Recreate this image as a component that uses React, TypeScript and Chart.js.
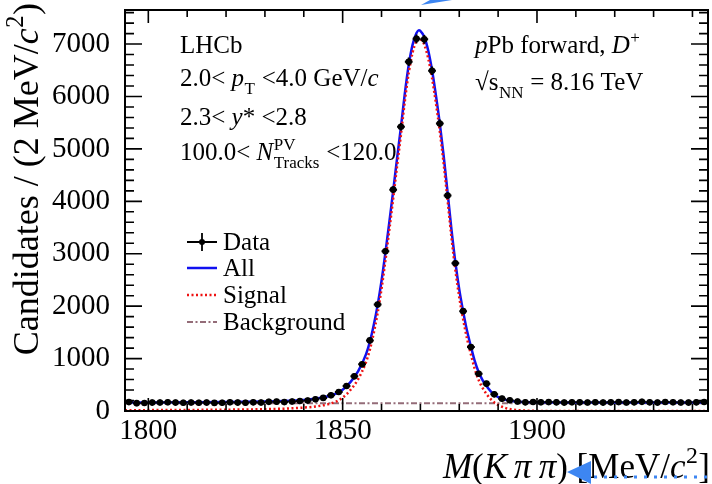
import React, { useEffect, useRef } from "react";
import { Chart, registerables } from "chart.js";

Chart.register(...registerables);

// ---------- axis ranges & ticks ----------
const X_MIN = 1794;
const X_MAX = 1944;
const Y_MIN = 0;
const Y_MAX = 7650;
const X_TICKS = [1800, 1850, 1900];
const Y_TICKS = [0, 1000, 2000, 3000, 4000, 5000, 6000, 7000];
const X_MINOR_STEP = 10;
const Y_MINOR_STEP = 200;

// ---------- data (2 MeV bins) ----------
const BIN_CENTERS = [
  1795, 1797, 1799, 1801, 1803, 1805, 1807, 1809, 1811, 1813,
  1815, 1817, 1819, 1821, 1823, 1825, 1827, 1829, 1831, 1833,
  1835, 1837, 1839, 1841, 1843, 1845, 1847, 1849, 1851, 1853,
  1855, 1857, 1859, 1861, 1863, 1865, 1867, 1869, 1871, 1873,
  1875, 1877, 1879, 1881, 1883, 1885, 1887, 1889, 1891, 1893,
  1895, 1897, 1899, 1901, 1903, 1905, 1907, 1909, 1911, 1913,
  1915, 1917, 1919, 1921, 1923, 1925, 1927, 1929, 1931, 1933,
  1935, 1937, 1939, 1941, 1943,
];
const DATA_COUNTS = [
  170, 150, 152, 160, 162, 168, 160, 158, 162, 158,
  160, 155, 158, 168, 160, 158, 165, 162, 175, 178,
  170, 182, 190, 200, 225, 250, 300, 362, 476, 661,
  890, 1347, 2032, 3048, 4223, 5423, 6661, 7100, 7090, 6490,
  5486, 4109, 2819, 1905, 1219, 712, 522, 318, 236, 205,
  180, 165, 172, 168, 170, 165, 160, 168, 165, 162,
  168, 160, 165, 170, 162, 165, 175, 165, 160, 172,
  168, 162, 160, 165, 172,
];
const BIN_HALF_WIDTH = 1;

// ---------- fit curves ----------
const ALL_X = [
  1794, 1800, 1810, 1820, 1830, 1835, 1840, 1843, 1846, 1848,
  1850, 1852, 1854, 1856, 1857, 1858, 1859, 1860, 1861, 1862,
  1863, 1864, 1865, 1866, 1867, 1868, 1869, 1869.6, 1870, 1871,
  1872, 1873, 1874, 1875, 1876, 1877, 1878, 1879, 1880, 1881,
  1882, 1883, 1884, 1885, 1886, 1887, 1888, 1889, 1890, 1892,
  1894, 1897, 1900, 1910, 1920, 1930, 1944,
];
const ALL_Y = [
  162, 163, 166, 170, 182, 192, 212, 235, 275, 320,
  405, 550, 760, 1080, 1320, 1640, 2020, 2480, 3020, 3600,
  4200, 4820, 5420, 6060, 6600, 6990, 7210, 7265, 7250, 7140,
  6880, 6500, 6020, 5480, 4860, 4170, 3460, 2840, 2320, 1900,
  1530, 1230, 950, 740, 590, 475, 385, 315, 265, 212,
  186, 170, 165, 163, 162, 161, 160,
];
const SIG_X = [
  1794, 1810, 1820, 1830, 1835, 1840, 1843, 1846, 1848, 1850,
  1852, 1854, 1856, 1857, 1858, 1859, 1860, 1861, 1862, 1863,
  1864, 1865, 1866, 1867, 1868, 1869, 1869.6, 1870, 1871, 1872,
  1873, 1874, 1875, 1876, 1877, 1878, 1879, 1880, 1881, 1882,
  1883, 1884, 1885, 1886, 1887, 1888, 1889, 1890, 1892, 1894,
  1897, 1900, 1944,
];
const SIG_Y = [
  15, 20, 25, 35, 45, 65, 85, 125, 170, 255,
  400, 610, 930, 1170, 1490, 1870, 2330, 2870, 3450, 4050,
  4670, 5270, 5910, 6450, 6840, 7060, 7115, 7100, 6990, 6730,
  6350, 5870, 5330, 4710, 4020, 3310, 2690, 2170, 1750, 1380,
  1080, 800, 590, 440, 325, 235, 165, 115, 55, 25,
  8, 2, 0,
];
const BKG_X = [1794, 1944];
const BKG_Y = [148, 150];

// ---------- styles ----------
const SERIF = '"Liberation Serif", "Times New Roman", serif';
const BLUE = "#1010f0";
const RED = "#ee1111";
const BKG_COLOR = "#946c78";

type Seg = { t?: string; it?: boolean; sub?: string; sup?: string };

function fnt(size: number, italic?: boolean) {
  return `${italic ? "italic " : ""}${size}px ${SERIF}`;
}

function segWidth(ctx: CanvasRenderingContext2D, s: Seg, size: number) {
  const small = size * 0.68;
  let w = 0;
  if (s.t) {
    ctx.font = fnt(size, s.it);
    w += ctx.measureText(s.t).width;
  }
  if (s.sub || s.sup) {
    ctx.font = fnt(small, false);
    const a = s.sub ? ctx.measureText(s.sub).width : 0;
    const b = s.sup ? ctx.measureText(s.sup).width : 0;
    w += Math.max(a, b) + 1;
  }
  return w;
}

function drawRich(
  ctx: CanvasRenderingContext2D,
  segs: Seg[],
  x: number,
  y: number,
  size: number,
  align: "left" | "right" = "left"
) {
  ctx.save();
  ctx.textAlign = "left";
  ctx.textBaseline = "alphabetic";
  ctx.fillStyle = "#000";
  let total = 0;
  for (const s of segs) total += segWidth(ctx, s, size);
  let cx = align === "right" ? x - total : x;
  const small = size * 0.68;
  for (const s of segs) {
    if (s.t) {
      ctx.font = fnt(size, s.it);
      ctx.fillText(s.t, cx, y);
      cx += ctx.measureText(s.t).width;
    }
    if (s.sub || s.sup) {
      ctx.font = fnt(small, false);
      let w = 0;
      if (s.sup) {
        ctx.fillText(s.sup, cx + 0.5, y - size * 0.42);
        w = Math.max(w, ctx.measureText(s.sup).width);
      }
      if (s.sub) {
        ctx.fillText(s.sub, cx + 0.5, y + size * 0.3);
        w = Math.max(w, ctx.measureText(s.sub).width);
      }
      cx += w + 1;
    }
  }
  ctx.restore();
}

const rootPlugin = {
  id: "rootStyle",
  beforeDatasetDraw(chart: any, args: any) {
    if (args.index !== 0) return;
    const ctx: CanvasRenderingContext2D = chart.ctx;
    const xs = chart.scales.x;
    const ys = chart.scales.y;
    const a = chart.chartArea;
    ctx.save();
    ctx.beginPath();
    ctx.rect(a.left, a.top, a.right - a.left, a.bottom - a.top);
    ctx.clip();
    ctx.strokeStyle = "#000";
    ctx.lineWidth = 2;
    BIN_CENTERS.forEach((c, i) => {
      const n = DATA_COUNTS[i];
      const err = Math.sqrt(n);
      const px = xs.getPixelForValue(c);
      const py = ys.getPixelForValue(n);
      const x0 = xs.getPixelForValue(c - BIN_HALF_WIDTH);
      const x1 = xs.getPixelForValue(c + BIN_HALF_WIDTH);
      const y0 = ys.getPixelForValue(n - err);
      const y1 = ys.getPixelForValue(n + err);
      ctx.beginPath();
      ctx.moveTo(x0, py);
      ctx.lineTo(x1, py);
      ctx.moveTo(px, Math.max(y0, py + 3));
      ctx.lineTo(px, Math.min(y1, py - 3));
      ctx.stroke();
    });
    ctx.restore();
  },
  afterDraw(chart: any) {
    const ctx: CanvasRenderingContext2D = chart.ctx;
    const xs = chart.scales.x;
    const ys = chart.scales.y;
    const a = chart.chartArea;
    ctx.save();
    // frame
    ctx.strokeStyle = "#000";
    ctx.lineWidth = 2;
    ctx.strokeRect(a.left, a.top, a.right - a.left, a.bottom - a.top);
    // x ticks (bottom & top, inward)
    ctx.lineWidth = 1.6;
    ctx.beginPath();
    for (let v = Math.ceil(X_MIN / X_MINOR_STEP) * X_MINOR_STEP; v <= X_MAX; v += X_MINOR_STEP) {
      const px = xs.getPixelForValue(v);
      const major = X_TICKS.includes(v);
      const len = major ? 13 : 7;
      ctx.moveTo(px, a.bottom);
      ctx.lineTo(px, a.bottom - len);
      ctx.moveTo(px, a.top);
      ctx.lineTo(px, a.top + len);
    }
    // y ticks (left & right, inward)
    for (let v = Y_MIN; v <= Y_MAX; v += Y_MINOR_STEP) {
      const py = ys.getPixelForValue(v);
      const major = Y_TICKS.includes(v);
      const len = major ? 17 : 9;
      ctx.moveTo(a.left, py);
      ctx.lineTo(a.left + len, py);
      ctx.moveTo(a.right, py);
      ctx.lineTo(a.right - len, py);
    }
    ctx.stroke();

    // axis titles
    drawRich(
      ctx,
      [
        { t: "M", it: true },
        { t: "(" },
        { t: "K\u2009\u03c0\u2009\u03c0", it: true },
        { t: ") [MeV/" },
        { t: "c", it: true, sup: "2" },
        { t: "]" },
      ],
      710,
      478,
      35,
      "right"
    );
    ctx.save();
    ctx.translate(38, 3);
    ctx.rotate(-Math.PI / 2);
    drawRich(
      ctx,
      [
        { t: "Candidates / (2 MeV/" },
        { t: "c", it: true, sup: "2" },
        { t: ")" },
      ],
      0,
      0,
      36,
      "right"
    );
    ctx.restore();

    // annotations
    const fs = 25;
    drawRich(ctx, [{ t: "LHCb" }], 180, 53, fs);
    drawRich(
      ctx,
      [{ t: "2.0< " }, { t: "p", it: true, sub: "T" }, { t: " <4.0 GeV/" }, { t: "c", it: true }],
      180,
      86,
      fs
    );
    drawRich(ctx, [{ t: "2.3< " }, { t: "y", it: true }, { t: "* <2.8" }], 180, 125, fs);
    drawRich(
      ctx,
      [{ t: "100.0< " }, { t: "N", it: true, sup: "PV", sub: "Tracks" }, { t: " <120.0" }],
      180,
      160,
      fs
    );
    drawRich(
      ctx,
      [{ t: "p", it: true }, { t: "Pb forward, " }, { t: "D", it: true, sup: "+" }],
      475,
      53,
      fs
    );
    drawRich(ctx, [{ t: "\u221as", sub: "NN" }, { t: " = 8.16 TeV" }], 475, 90, fs);

    // legend
    const lx0 = 187;
    const lx1 = 217;
    const rows = [242, 268, 295, 322];
    ctx.lineWidth = 1.8;
    ctx.strokeStyle = "#000";
    ctx.beginPath();
    ctx.moveTo(lx0, rows[0]);
    ctx.lineTo(lx1, rows[0]);
    ctx.moveTo(202, rows[0] - 9);
    ctx.lineTo(202, rows[0] + 9);
    ctx.stroke();
    ctx.fillStyle = "#000";
    ctx.beginPath();
    ctx.arc(202, rows[0], 3, 0, Math.PI * 2);
    ctx.fill();
    ctx.strokeStyle = BLUE;
    ctx.lineWidth = 2.5;
    ctx.beginPath();
    ctx.moveTo(lx0, rows[1]);
    ctx.lineTo(lx1, rows[1]);
    ctx.stroke();
    ctx.strokeStyle = RED;
    ctx.setLineDash([2, 2.5]);
    ctx.beginPath();
    ctx.moveTo(lx0, rows[2]);
    ctx.lineTo(lx1, rows[2]);
    ctx.stroke();
    ctx.strokeStyle = BKG_COLOR;
    ctx.lineWidth = 2;
    ctx.setLineDash([6, 2.5, 2, 2.5]);
    ctx.beginPath();
    ctx.moveTo(lx0, rows[3]);
    ctx.lineTo(lx1, rows[3]);
    ctx.stroke();
    ctx.setLineDash([]);
    const labels = ["Data", "All", "Signal", "Background"];
    labels.forEach((l, i) => drawRich(ctx, [{ t: l }], 223, rows[i] + 8, fs));

    // blue pointer marks present on the picture
    ctx.fillStyle = "#3d86f2";
    ctx.beginPath();
    ctx.moveTo(421, 5);
    ctx.lineTo(452, 0);
    ctx.lineTo(430, 0);
    ctx.closePath();
    ctx.fill();
    ctx.beginPath();
    ctx.moveTo(567, 472);
    ctx.lineTo(591, 461);
    ctx.lineTo(591, 484);
    ctx.closePath();
    ctx.fill();
    ctx.strokeStyle = "#3d86f2";
    ctx.lineWidth = 3;
    ctx.setLineDash([3, 7]);
    ctx.beginPath();
    ctx.moveTo(594, 477);
    ctx.lineTo(708, 477);
    ctx.stroke();
    ctx.setLineDash([]);
    ctx.restore();
  },
};

export default function App() {
  const ref = useRef<HTMLCanvasElement | null>(null);
  useEffect(() => {
    if (!ref.current) return;
    const tickFont = { family: SERIF, size: 29 };
    const chart = new Chart(ref.current, {
      type: "line",
      data: {
        datasets: [
          {
            label: "Data",
            data: BIN_CENTERS.map((c, i) => ({ x: c, y: DATA_COUNTS[i] })),
            showLine: false,
            pointRadius: 3.3,
            pointBackgroundColor: "#000",
            pointBorderColor: "#000",
            pointBorderWidth: 0,
          },
          {
            label: "Signal",
            data: SIG_X.map((x, i) => ({ x, y: SIG_Y[i] })),
            borderColor: RED,
            borderWidth: 2.5,
            borderDash: [2, 2.5],
            pointRadius: 0,
            cubicInterpolationMode: "monotone",
            fill: false,
          },
          {
            label: "All",
            data: ALL_X.map((x, i) => ({ x, y: ALL_Y[i] })),
            borderColor: BLUE,
            borderWidth: 2.5,
            pointRadius: 0,
            cubicInterpolationMode: "monotone",
            fill: false,
          },
          {
            label: "Background",
            data: BKG_X.map((x, i) => ({ x, y: BKG_Y[i] })),
            borderColor: BKG_COLOR,
            borderWidth: 2,
            borderDash: [6, 2.5, 2, 2.5],
            pointRadius: 0,
            fill: false,
          },
        ],
      },
      options: {
        animation: false,
        responsive: false,
        devicePixelRatio: 1,
        layout: { padding: { top: 10, right: 2, left: 0, bottom: 0 } },
        plugins: { legend: { display: false }, tooltip: { enabled: false } },
        events: [],
        scales: {
          x: {
            type: "linear",
            min: X_MIN,
            max: X_MAX,
            grid: { display: false, drawTicks: false },
            border: { display: false },
            ticks: {
              font: tickFont,
              color: "#000",
              padding: 3,
              maxRotation: 0,
              autoSkip: false,
              callback: (v: any) => String(v),
            },
            afterBuildTicks: (s: any) => {
              s.ticks = X_TICKS.map((v) => ({ value: v }));
            },
            afterFit: (s: any) => {
              s.height = 73;
              s.paddingLeft = 0;
              s.paddingRight = 0;
            },
          },
          y: {
            type: "linear",
            min: Y_MIN,
            max: Y_MAX,
            grid: { display: false, drawTicks: false },
            border: { display: false },
            ticks: {
              font: tickFont,
              color: "#000",
              padding: 15,
              autoSkip: false,
              callback: (v: any) => String(v),
            },
            afterBuildTicks: (s: any) => {
              s.ticks = Y_TICKS.map((v) => ({ value: v }));
            },
            afterFit: (s: any) => {
              s.width = 125;
              s.paddingTop = 0;
              s.paddingBottom = 0;
            },
          },
        },
      } as any,
      plugins: [rootPlugin],
    });
    return () => chart.destroy();
  }, []);
  return (
    <div style={{ position: "fixed", left: 0, top: 0, width: 712, height: 484, background: "#fff" }}>
      <canvas ref={ref} width={712} height={484} style={{ width: 712, height: 484, display: "block" }} />
    </div>
  );
}
